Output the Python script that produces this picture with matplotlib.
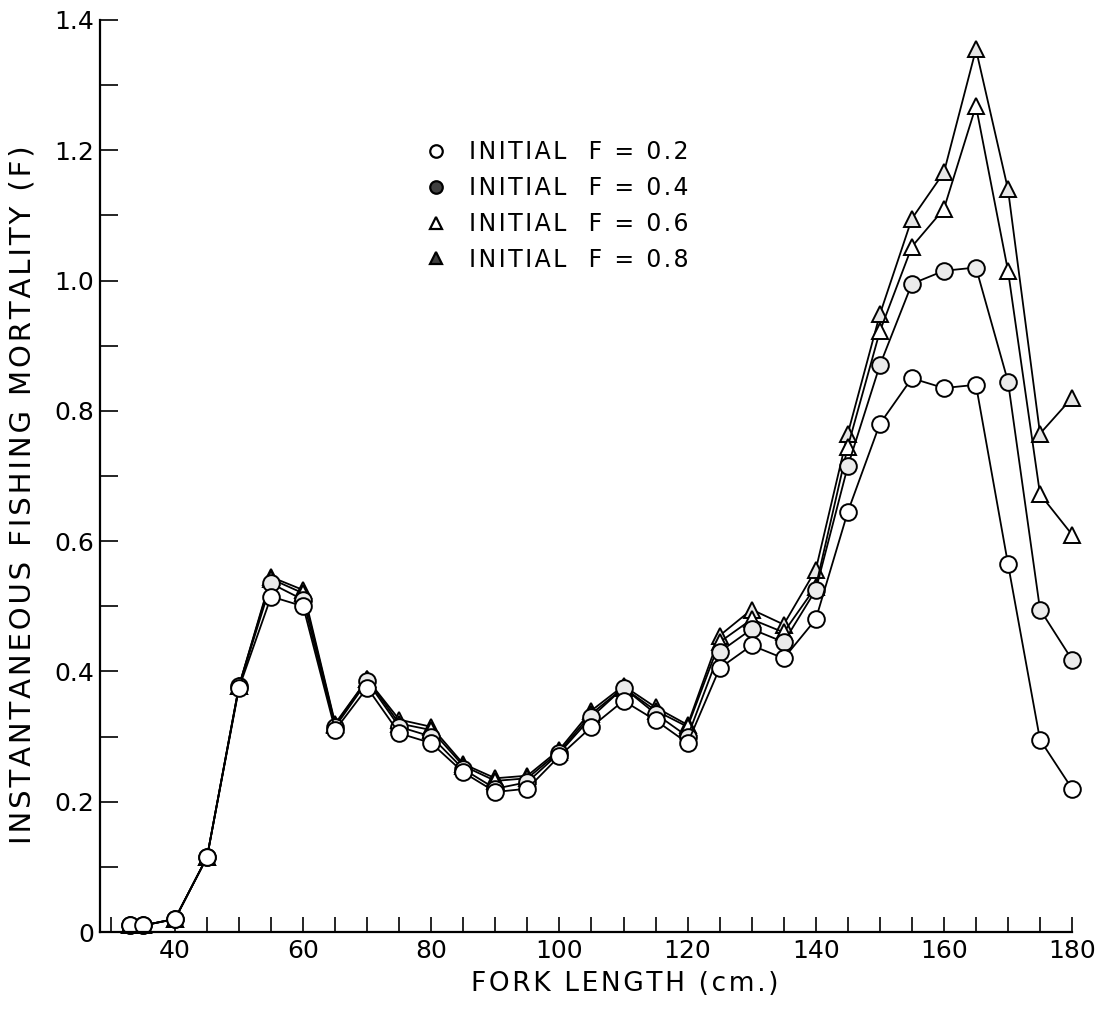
import matplotlib
matplotlib.use("Agg")
import matplotlib.pyplot as plt
from matplotlib.lines import Line2D
from matplotlib.ticker import MultipleLocator

# fork length classes (cm)
fork_length = [33, 35, 40, 45, 50, 55, 60, 65, 70, 75, 80, 85, 90, 95, 100, 105,
               110, 115, 120, 125, 130, 135, 140, 145, 150, 155, 160, 165, 170, 175, 180]

# instantaneous fishing mortality for each initial F
f_02 = [0.01, 0.01, 0.02, 0.115, 0.375, 0.515, 0.50, 0.31, 0.375, 0.305, 0.29, 0.245,
        0.215, 0.22, 0.27, 0.315, 0.355, 0.325, 0.29, 0.405, 0.44, 0.42, 0.48, 0.645,
        0.78, 0.85, 0.835, 0.84, 0.565, 0.295, 0.22]
f_04 = [0.01, 0.01, 0.02, 0.115, 0.378, 0.535, 0.51, 0.315, 0.385, 0.315, 0.30, 0.25,
        0.22, 0.23, 0.275, 0.33, 0.375, 0.335, 0.30, 0.43, 0.465, 0.445, 0.525, 0.715,
        0.87, 0.995, 1.015, 1.02, 0.845, 0.495, 0.418]
f_06 = [0.01, 0.01, 0.02, 0.115, 0.378, 0.542, 0.52, 0.318, 0.388, 0.32, 0.31, 0.255,
        0.232, 0.236, 0.277, 0.335, 0.375, 0.34, 0.315, 0.445, 0.48, 0.46, 0.53, 0.745,
        0.922, 1.052, 1.11, 1.268, 1.015, 0.672, 0.61]
f_08 = [0.01, 0.01, 0.02, 0.115, 0.378, 0.545, 0.525, 0.32, 0.388, 0.326, 0.315, 0.258,
        0.236, 0.24, 0.28, 0.34, 0.378, 0.345, 0.318, 0.455, 0.495, 0.472, 0.556, 0.765,
        0.948, 1.095, 1.166, 1.355, 1.14, 0.765, 0.82]

labels = ["INITIAL  F = 0.2", "INITIAL  F = 0.4", "INITIAL  F = 0.6", "INITIAL  F = 0.8"]
xtick_labels = [40, 60, 80, 100, 120, 140, 160, 180]
ytick_labels = ["0", "0.2", "0.4", "0.6", "0.8", "1.0", "1.2", "1.4"]


def spaced(s):
    # the lettering in the original is widely spaced
    return "\u200a".join(s)


plt.rcParams["font.family"] = ["DejaVu Sans"]

fig = plt.figure(figsize=(11.09, 10.09), dpi=100)
ax = fig.add_axes([0.0902, 0.0763, 0.8765, 0.9039])

# draw the higher curves first so the lower symbols sit on top
styles = [
    (f_08, "^", "0.9", 11),
    (f_06, "^", "white", 11),
    (f_04, "o", "0.92", 12),
    (f_02, "o", "white", 12),
]
for vals, mk, fc, ms in styles:
    ax.plot(fork_length, vals, color="black", lw=1.3, marker=mk, ms=ms,
            mfc=fc, mec="black", mew=1.4, clip_on=False)

ax.set_xlim(28.3, 180)
ax.set_ylim(0, 1.4)

ax.set_xticks(xtick_labels)
ax.set_xticklabels([str(v) for v in xtick_labels])
ax.xaxis.set_minor_locator(MultipleLocator(5))
ax.set_yticks([0, 0.2, 0.4, 0.6, 0.8, 1.0, 1.2, 1.4])
ax.set_yticklabels(ytick_labels)
ax.yaxis.set_minor_locator(MultipleLocator(0.1))

ax.tick_params(axis="x", which="both", direction="in", length=11, width=1.2,
               labelsize=18, pad=5)
ax.tick_params(axis="y", which="both", direction="in", length=13, width=1.2,
               labelsize=18, pad=4)

for side in ["top", "right"]:
    ax.spines[side].set_visible(False)
for side in ["left", "bottom"]:
    ax.spines[side].set_linewidth(1.6)

ax.set_xlabel(spaced("FORK LENGTH (cm.)"), fontsize=19)
ax.xaxis.set_label_coords(0.54, -0.043)
ax.set_ylabel(spaced("INSTANTANEOUS FISHING MORTALITY (F)"), fontsize=21)
ax.yaxis.set_label_coords(-0.065, 0.48)

handles = [
    Line2D([], [], ls="none", marker="o", ms=9, mfc="white", mec="black", mew=1.6),
    Line2D([], [], ls="none", marker="o", ms=9, mfc="0.25", mec="black", mew=1.6),
    Line2D([], [], ls="none", marker="^", ms=9, mfc="white", mec="black", mew=1.6),
    Line2D([], [], ls="none", marker="^", ms=9, mfc="0.25", mec="black", mew=1.6),
]
ax.legend(handles, [spaced(l) for l in labels], loc="upper left",
          bbox_to_anchor=(0.363, 0.882), bbox_transform=fig.transFigure,
          frameon=False, fontsize=17, handlelength=1.0, handletextpad=0.9,
          labelspacing=0.5)

fig.savefig("out.png", dpi=100)
